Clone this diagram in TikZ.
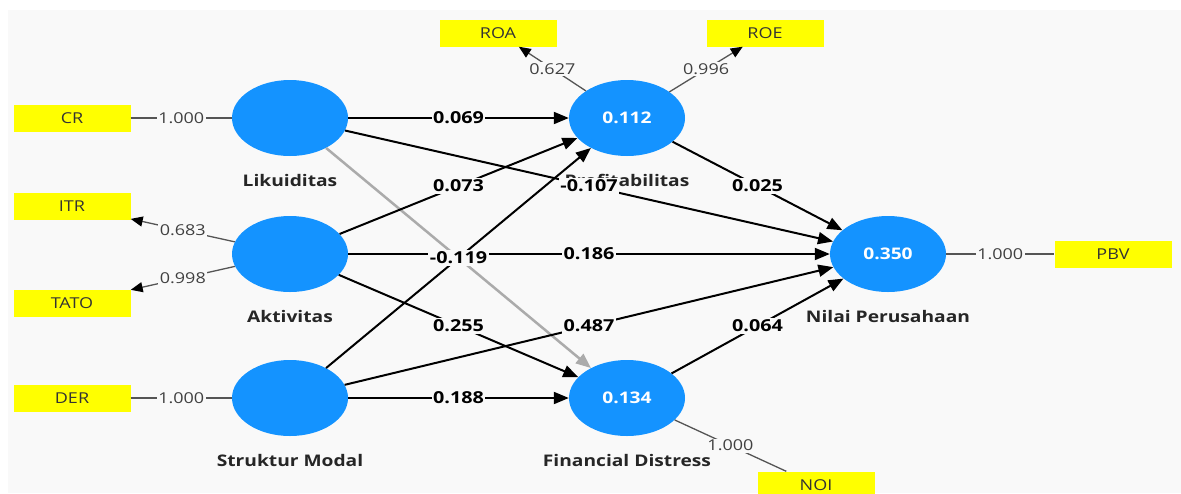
\documentclass[tikz,border=0pt]{standalone}
\usepackage{fontspec}
\usepackage{graphicx}
\setmainfont{Open Sans}
\usetikzlibrary{shapes.geometric,arrows.meta}
\definecolor{bg}{HTML}{F9F9F9}
\definecolor{lvblue}{HTML}{1493FF}
\definecolor{indyellow}{HTML}{FFFF00}
\definecolor{outgray}{HTML}{555555}
\definecolor{grayedge}{HTML}{ABABAB}
\newcommand{\hs}[1]{\scalebox{1.2}[1]{#1}}
\begin{document}
\begin{tikzpicture}[x=1pt,y=-1pt,
 lv/.style={ellipse, fill=lvblue, minimum width=116pt, minimum height=76pt, inner sep=0pt, text=white, font=\fontsize{16}{18}\selectfont\bfseries},
 indbox/.style={rectangle, fill=indyellow, minimum width=117pt, minimum height=27pt, inner sep=0pt, text=black!80, font=\fontsize{15}{17}\selectfont},
 lvname/.style={font=\fontsize{16}{18}\selectfont\bfseries, text=black!85},
 inpath/.style={draw=black, line width=2pt, -{Triangle[length=15pt,width=12pt]}},
 gpath/.style={draw=grayedge, line width=2.5pt, -{Triangle[length=15pt,width=12pt]}},
 plabel/.style={fill=bg, inner sep=1.5pt, font=\fontsize{16.5}{18}\selectfont\bfseries, text=black},
 ldline/.style={draw=outgray, line width=1.3pt},
 ldarrow/.style={ldline, -{Triangle[length=12pt,width=10pt,color=black]}},
 olabel/.style={fill=bg, inner sep=1.5pt, font=\fontsize{15}{17}\selectfont, text=black!75}
]
\useasboundingbox (0,0) rectangle (1181,493);
\clip (0,0) rectangle (1181,493);
\fill[white] (0,0) rectangle (1181,493);
\fill[bg] (8,10) rectangle (1181,493);

% latent variables
\node[lv] (lik) at (290,118) {};
\node[lv] (akt) at (290,254) {};
\node[lv] (sm) at (290,398) {};
\node[lv] (prof) at (627,118) {\hs{0.112}};
\node[lv] (fd) at (627,398) {\hs{0.134}};
\node[lv] (nil) at (888,254) {\hs{0.350}};

% names
\node[lvname] (likn) at (290,180) {\hs{Likuiditas}};
\node[lvname] (aktn) at (290,316) {\hs{Aktivitas}};
\node[lvname] (smn) at (290,460) {\hs{Struktur Modal}};
\node[lvname] (profn) at (627,180) {\hs{Profitabilitas}};
\node[lvname] (fdn) at (627,460) {\hs{Financial Distress}};
\node[lvname] (niln) at (888,316) {\hs{Nilai Perusahaan}};

% indicators
\node[indbox] (cr) at (72,118) {\hs{CR}};
\node[indbox] (itr) at (72,206) {\hs{ITR}};
\node[indbox] (tato) at (72,303) {\hs{TATO}};
\node[indbox] (der) at (72,398) {\hs{DER}};
\node[indbox] (roa) at (498,33) {\hs{ROA}};
\node[indbox] (roe) at (765,33) {\hs{ROE}};
\node[indbox] (pbv) at (1113,254) {\hs{PBV}};
\node[indbox] (noi) at (816,485) {\hs{NOI}};

% outer model
\draw[ldline] (cr) -- node[olabel] {\hs{1.000}} (lik);
\draw[ldarrow] (akt) -- node[olabel] {\hs{0.683}} (itr);
\draw[ldarrow] (akt) -- node[olabel] {\hs{0.998}} (tato);
\draw[ldline] (der) -- node[olabel] {\hs{1.000}} (sm);
\draw[ldarrow] (prof) -- node[olabel] {\hs{0.627}} (roa);
\draw[ldarrow] (prof) -- node[olabel] {\hs{0.996}} (roe);
\draw[ldline] (nil) -- node[olabel] {\hs{1.000}} (pbv);
\draw[ldline] (fd) -- node[olabel] {\hs{1.000}} (noi);

% inner model
\draw[gpath] (lik) -- (fd);
\draw[inpath] (lik) -- node[plabel] {\hs{0.069}} (prof);
\draw[inpath] (lik) -- node[plabel] {\hs{-0.107}} (nil);
\draw[inpath] (akt) -- node[plabel] {\hs{0.073}} (prof);
\draw[inpath] (akt) -- node[plabel] {\hs{0.186}} (nil);
\draw[inpath] (akt) -- node[plabel] {\hs{0.255}} (fd);
\draw[inpath] (sm) -- node[plabel] {\hs{-0.119}} (prof);
\draw[inpath] (sm) -- node[plabel] {\hs{0.487}} (nil);
\draw[inpath] (sm) -- node[plabel] {\hs{0.188}} (fd);
\draw[inpath] (prof) -- node[plabel] {\hs{0.025}} (nil);
\draw[inpath] (fd) -- node[plabel] {\hs{0.064}} (nil);
\end{tikzpicture}
\end{document}
